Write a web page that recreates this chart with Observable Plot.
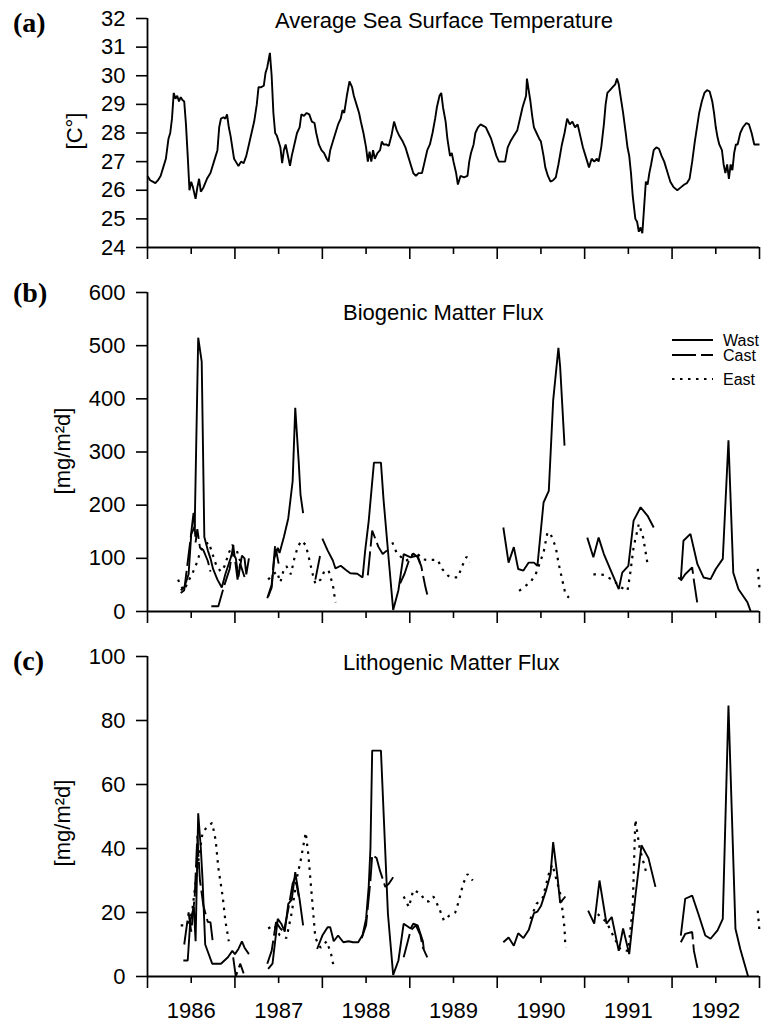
<!DOCTYPE html>
<html>
<head>
<meta charset="utf-8">
<script src="https://cdn.jsdelivr.net/npm/d3@7"></script>
<script src="https://cdn.jsdelivr.net/npm/@observablehq/plot@0.6"></script>
<style>
  html, body { margin: 0; padding: 0; background: white; }
  #wrap { position: relative; width: 761px; height: 1024px; overflow: hidden; font-family: "Liberation Sans", Arial, sans-serif; }
  #wrap > .panel { position: absolute; left: 0; }
  #overlay { position: absolute; left: 0; top: 0; pointer-events: none; }
</style>
</head>
<body>
<div id="wrap"></div>
<script>
// ---------------- data ----------------
const yearLabels = ["1986", "1987", "1988", "1989", "1990", "1991", "1992"];
const seriesNames = ["Wast", "Cast", "East"];
const panelTitles = ["Average Sea Surface Temperature", "Biogenic Matter Flux", "Lithogenic Matter Flux"];
const panelTags = ["(a)", "(b)", "(c)"];
const axisTitles = ["[C°]", "[mg/m²d]", "[mg/m²d]"];
const sstTicks = [24, 25, 26, 27, 28, 29, 30, 31, 32];
const bioTicks = [0, 100, 200, 300, 400, 500, 600];
const lithoTicks = [0, 20, 40, 60, 80, 100];

// Average sea surface temperature [year, °C]
const sst = [[1986.00,26.5],[1986.03,26.35],[1986.06,26.3],[1986.09,26.25],[1986.12,26.35],[1986.15,26.5],[1986.18,26.8],[1986.21,27.1],[1986.24,27.8],[1986.26,28.0],[1986.28,28.5],[1986.30,29.4],[1986.32,29.2],[1986.34,29.3],[1986.36,29.1],[1986.38,29.25],[1986.40,29.15],[1986.42,29.1],[1986.44,28.3],[1986.46,27.2],[1986.48,26.0],[1986.50,26.3],[1986.52,26.1],[1986.55,25.7],[1986.57,26.1],[1986.59,26.4],[1986.61,25.95],[1986.64,26.1],[1986.68,26.4],[1986.72,26.6],[1986.76,27.0],[1986.80,27.4],[1986.82,28.2],[1986.84,28.5],[1986.87,28.55],[1986.89,28.5],[1986.91,28.65],[1986.93,28.2],[1986.95,27.9],[1986.97,27.5],[1986.99,27.1],[1987.01,27.0],[1987.04,26.85],[1987.07,27.0],[1987.10,26.95],[1987.13,27.2],[1987.16,27.6],[1987.19,28.0],[1987.22,28.4],[1987.25,29.0],[1987.27,29.6],[1987.30,29.6],[1987.33,29.65],[1987.35,30.1],[1987.37,30.3],[1987.40,30.8],[1987.42,30.0],[1987.44,28.7],[1987.46,28.0],[1987.48,27.9],[1987.50,27.7],[1987.52,27.5],[1987.54,26.95],[1987.56,27.4],[1987.58,27.6],[1987.60,27.3],[1987.63,26.85],[1987.65,27.2],[1987.68,27.6],[1987.71,28.0],[1987.74,28.2],[1987.76,28.65],[1987.79,28.6],[1987.82,28.7],[1987.85,28.65],[1987.88,28.4],[1987.91,28.35],[1987.93,28.0],[1987.96,27.6],[1987.99,27.4],[1988.02,27.3],[1988.05,27.1],[1988.07,27.0],[1988.09,27.4],[1988.12,27.7],[1988.15,28.0],[1988.18,28.3],[1988.21,28.5],[1988.23,28.8],[1988.25,28.7],[1988.28,29.3],[1988.31,29.8],[1988.34,29.6],[1988.36,29.3],[1988.39,29.0],[1988.42,28.7],[1988.44,28.4],[1988.47,28.0],[1988.50,27.5],[1988.52,27.0],[1988.54,27.35],[1988.56,27.0],[1988.58,27.4],[1988.60,27.1],[1988.63,27.3],[1988.66,27.4],[1988.68,27.7],[1988.70,27.6],[1988.73,27.6],[1988.76,27.55],[1988.79,27.9],[1988.82,28.4],[1988.85,28.1],[1988.88,27.9],[1988.92,27.7],[1988.95,27.5],[1988.98,27.2],[1989.01,26.9],[1989.04,26.6],[1989.07,26.5],[1989.10,26.6],[1989.14,26.6],[1989.17,27.0],[1989.20,27.4],[1989.23,27.6],[1989.26,28.0],[1989.29,28.5],[1989.31,28.9],[1989.34,29.3],[1989.36,29.4],[1989.38,28.9],[1989.41,28.4],[1989.43,27.8],[1989.46,27.2],[1989.48,27.3],[1989.50,27.0],[1989.53,26.6],[1989.55,26.2],[1989.58,26.5],[1989.62,26.45],[1989.66,26.5],[1989.68,27.0],[1989.70,27.3],[1989.73,27.6],[1989.75,28.0],[1989.78,28.2],[1989.81,28.3],[1989.84,28.25],[1989.87,28.2],[1989.90,28.0],[1989.93,27.8],[1989.96,27.5],[1989.99,27.2],[1990.02,27.0],[1990.06,27.0],[1990.09,27.0],[1990.12,27.5],[1990.15,27.7],[1990.19,27.9],[1990.23,28.1],[1990.26,28.5],[1990.29,28.9],[1990.31,29.1],[1990.33,29.3],[1990.34,29.9],[1990.36,29.5],[1990.38,29.1],[1990.40,28.6],[1990.42,28.2],[1990.45,28.0],[1990.48,27.8],[1990.50,27.7],[1990.53,27.2],[1990.55,26.8],[1990.58,26.5],[1990.61,26.3],[1990.64,26.35],[1990.67,26.45],[1990.70,26.9],[1990.74,27.6],[1990.77,28.0],[1990.80,28.5],[1990.83,28.3],[1990.86,28.4],[1990.89,28.2],[1990.92,28.3],[1990.95,27.9],[1990.98,27.5],[1991.01,27.2],[1991.05,26.8],[1991.08,27.1],[1991.11,27.0],[1991.14,27.1],[1991.16,27.0],[1991.19,27.5],[1991.22,28.3],[1991.24,29.0],[1991.26,29.4],[1991.29,29.5],[1991.32,29.6],[1991.35,29.7],[1991.37,29.9],[1991.39,29.7],[1991.41,29.3],[1991.44,28.7],[1991.47,28.0],[1991.49,27.5],[1991.51,27.2],[1991.53,26.6],[1991.55,25.8],[1991.58,25.0],[1991.60,24.9],[1991.62,24.55],[1991.64,24.7],[1991.66,24.5],[1991.68,25.4],[1991.70,26.3],[1991.72,26.2],[1991.74,26.6],[1991.76,26.9],[1991.79,27.4],[1991.82,27.5],[1991.85,27.45],[1991.88,27.2],[1991.91,27.0],[1991.94,26.7],[1991.98,26.3],[1992.02,26.1],[1992.06,26.0],[1992.10,26.1],[1992.14,26.2],[1992.17,26.25],[1992.20,26.4],[1992.23,27.0],[1992.26,27.7],[1992.29,28.3],[1992.31,28.7],[1992.34,29.1],[1992.37,29.4],[1992.40,29.5],[1992.43,29.45],[1992.46,29.1],[1992.48,28.7],[1992.50,28.2],[1992.52,27.85],[1992.54,27.6],[1992.57,27.4],[1992.59,26.9],[1992.61,26.6],[1992.63,26.9],[1992.65,26.4],[1992.67,26.9],[1992.69,26.7],[1992.71,27.3],[1992.73,27.6],[1992.75,27.6],[1992.78,28.0],[1992.81,28.2],[1992.85,28.35],[1992.88,28.3],[1992.91,28.0],[1992.94,27.6],[1992.97,27.6],[1993.00,27.6]];

// Biogenic matter flux [year, mg/m2d]; null marks a gap
const bioWast = [[1986.38,40],[1986.42,45],[1986.47,70],[1986.50,145],[1986.54,160],[1986.58,515],[1986.62,470],[1986.65,140],[1986.69,115],[1986.72,100],[1986.75,80],[1986.80,60],[1986.85,45],[1986.89,70],[1986.94,95],[1986.97,110],[1987.01,100],[1987.04,65],[1987.08,105],[1987.11,100],[1987.13,70],[1987.16,100],[1987.2,null],
 [1987.38,28],[1987.42,45],[1987.45,100],[1987.49,120],[1987.51,110],[1987.56,140],[1987.61,175],[1987.66,245],[1987.69,383],[1987.73,280],[1987.75,220],[1987.78,185],[1987.9,null],
 [1988.00,137],[1988.06,115],[1988.12,96],[1988.15,81],[1988.21,86],[1988.27,78],[1988.32,72],[1988.40,71],[1988.46,64],[1988.49,115],[1988.53,170],[1988.59,280],[1988.67,280],[1988.70,210],[1988.76,96],[1988.81,3],[1988.87,40],[1988.93,108],[1989.01,102],[1989.09,105],[1989.12,90],[1989.5,null],
 [1990.07,158],[1990.13,92],[1990.19,121],[1990.24,80],[1990.30,77],[1990.36,92],[1990.42,92],[1990.46,86],[1990.53,205],[1990.59,227],[1990.64,397],[1990.70,496],[1990.72,460],[1990.77,312],[1990.9,null],
 [1991.03,139],[1991.10,102],[1991.16,139],[1991.22,108],[1991.30,77],[1991.39,42],[1991.43,73],[1991.50,86],[1991.56,171],[1991.64,196],[1991.72,180],[1991.79,158],[1991.9,null],
 [1992.07,64],[1992.10,60],[1992.13,133],[1992.21,146],[1992.29,89],[1992.36,64],[1992.44,61],[1992.50,80],[1992.58,99],[1992.645,322],[1992.70,73],[1992.76,42],[1992.86,18],[1992.90,0]];
const bioCast = [[1986.38,35],[1986.42,40],[1986.48,120],[1986.53,190],[1986.55,130],[1986.57,155],[1986.60,120],[1986.64,115],[1986.69,95],[1986.72,75],[1986.725,null],
 [1986.73,10],[1986.81,10],[1986.88,50],[1986.94,80],[1986.98,125],[1987.03,60],[1987.06,90],[1987.11,65],[1987.2,null],
 [1987.37,25],[1987.42,50],[1987.46,125],[1987.50,90],[1987.6,null],
 [1987.92,60],[1987.98,110],[1988.2,null],
 [1988.52,68],[1988.57,152],[1988.61,135],[1988.64,122],[1988.69,108],[1988.74,115],[1988.8,null],
 [1988.89,53],[1988.94,71],[1988.99,96],[1989.04,109],[1989.09,102],[1989.13,86],[1989.18,45],[1989.20,32],[1990.5,null],
 [1992.10,58],[1992.15,70],[1992.23,83],[1992.25,58],[1992.29,14]];
const bioEast = [[1986.35,60],[1986.38,48],[1986.42,40],[1986.46,55],[1986.51,70],[1986.56,90],[1986.61,115],[1986.65,125],[1986.70,130],[1986.74,110],[1986.79,85],[1986.84,75],[1986.88,85],[1986.93,110],[1986.97,125],[1987.02,115],[1987.06,95],[1987.2,null],
 [1987.38,60],[1987.44,70],[1987.48,75],[1987.52,55],[1987.56,80],[1987.59,85],[1987.64,70],[1987.68,100],[1987.72,122],[1987.76,133],[1987.81,125],[1987.84,105],[1987.89,70],[1987.92,52],[1987.98,60],[1988.02,75],[1988.07,78],[1988.12,50],[1988.15,17],[1988.5,null],
 [1988.80,130],[1988.85,110],[1988.95,95],[1989.01,100],[1989.04,110],[1989.09,108],[1989.15,98],[1989.20,97],[1989.26,97],[1989.32,97],[1989.37,80],[1989.44,67],[1989.49,64],[1989.55,64],[1989.60,86],[1989.65,103],[1989.68,92],[1990.0,null],
 [1990.25,39],[1990.38,55],[1990.44,70],[1990.53,111],[1990.575,149],[1990.61,146],[1990.67,121],[1990.70,92],[1990.75,55],[1990.78,33],[1990.82,26],[1991.0,null],
 [1991.10,70],[1991.22,69],[1991.33,58],[1991.42,45],[1991.49,39],[1991.52,70],[1991.56,121],[1991.62,165],[1991.67,139],[1991.72,89],[1992.0,null],
 [1992.98,80],[1993.00,45]];

// Lithogenic matter flux [year, mg/m2d]; null marks a gap
const lithoWast = [[1986.41,5],[1986.46,5],[1986.49,17.5],[1986.53,21.7],[1986.55,11],[1986.58,51],[1986.61,40],[1986.63,30],[1986.66,10],[1986.74,4],[1986.84,4],[1986.92,6],[1986.97,8],[1987.00,7],[1987.04,8.6],[1987.08,11],[1987.11,9],[1987.16,7],[1987.2,null],
 [1987.38,2.4],[1987.43,4],[1987.49,18],[1987.53,16.5],[1987.57,14],[1987.61,22.7],[1987.65,24],[1987.69,32.6],[1987.74,24],[1987.78,16],[1987.9,null],
 [1987.94,8.6],[1988.00,12.8],[1988.06,15.4],[1988.09,15.4],[1988.13,11],[1988.18,12.8],[1988.24,10.7],[1988.30,11],[1988.35,10.7],[1988.41,10.7],[1988.46,13],[1988.50,18],[1988.53,28],[1988.55,40],[1988.57,70.6],[1988.67,70.6],[1988.75,19.6],[1988.81,0.5],[1988.87,5],[1988.93,16.5],[1989.01,15],[1989.04,16.5],[1989.09,16],[1989.15,11],[1989.16,8.6],[1989.5,null],
 [1990.07,10.7],[1990.13,12.2],[1990.19,9.6],[1990.24,13.5],[1990.30,12],[1990.36,14.5],[1990.42,19.8],[1990.46,20.3],[1990.50,22],[1990.56,27],[1990.61,32],[1990.64,42],[1990.69,31],[1990.72,23],[1990.78,25],[1990.9,null],
 [1991.04,20.6],[1991.11,16.5],[1991.17,30],[1991.25,16.5],[1991.31,18.6],[1991.39,8],[1991.44,15],[1991.51,7],[1991.58,25],[1991.65,41],[1991.73,37],[1991.81,28],[1991.9,null],
 [1992.10,12.8],[1992.15,24.3],[1992.23,25.3],[1992.30,19.6],[1992.38,12.8],[1992.44,11.8],[1992.52,14.4],[1992.58,18],[1992.645,84.7],[1992.725,14.9],[1992.78,8.6],[1992.87,0]];
const lithoCast = [[1986.42,10],[1986.47,20],[1986.50,14],[1986.54,25],[1986.57,44],[1986.60,30],[1986.64,22],[1986.69,17],[1986.72,17],[1986.75,10],[1986.9,null],
 [1986.98,6],[1987.01,0],[1987.06,4],[1987.10,1],[1987.2,null],
 [1987.37,4],[1987.42,8],[1987.47,17],[1987.52,15],[1987.56,14],[1987.61,21],[1987.66,29],[1987.69,31],[1987.73,25],[1988.0,null],
 [1988.45,12],[1988.50,16],[1988.55,30],[1988.57,38],[1988.62,37],[1988.66,33],[1988.72,28],[1988.76,29],[1988.81,31],[1988.85,null],
 [1988.93,6],[1989.01,14.4],[1989.07,16],[1989.12,13],[1989.15,9],[1989.20,6],[1990.5,null],
 [1992.10,10.7],[1992.15,13.3],[1992.23,13.9],[1992.25,8],[1992.30,1.4]];
const lithoEast = [[1986.38,16],[1986.45,16],[1986.51,20],[1986.57,34],[1986.63,45],[1986.69,47],[1986.74,48],[1986.78,42.5],[1986.81,34],[1986.86,25],[1986.89,17.5],[1986.93,11],[1987.2,null],
 [1987.38,15],[1987.45,16],[1987.51,13],[1987.59,12],[1987.65,20],[1987.71,31],[1987.75,36],[1987.81,45],[1987.84,38],[1987.89,21.7],[1987.92,12],[1987.98,9],[1988.05,11],[1988.10,7],[1988.13,3],[1988.5,null],
 [1988.93,25],[1988.99,21.7],[1989.04,27],[1989.12,26],[1989.18,23.5],[1989.22,23.5],[1989.27,25],[1989.33,21.7],[1989.39,17.5],[1989.45,19],[1989.52,20],[1989.56,23.5],[1989.61,29],[1989.66,32],[1989.72,30],[1990.0,null],
 [1990.38,18],[1990.45,22.7],[1990.52,24.6],[1990.59,32],[1990.63,35],[1990.72,26],[1990.75,20],[1990.77,15],[1990.78,9],[1991.0,null],
 [1991.15,19.5],[1991.25,17],[1991.34,12],[1991.41,8.4],[1991.50,8],[1991.55,22],[1991.58,49],[1991.63,40],[1991.71,32],[1992.0,null],
 [1992.98,20.6],[1993.00,14]];

// ---------------- drawing ----------------
const FONT = "Liberation Sans, Arial, Helvetica, sans-serif";
const yearStarts = yearLabels.map(s => +s).concat([+yearLabels[yearLabels.length - 1] + 1]);
const midYears = yearLabels.map(s => +s + 0.5);
const xDomain = [yearStarts[0], yearStarts[yearStarts.length - 1]];
const dashStyles = {Wast: null, Cast: "24,5", East: "2.5,5.5"};

function panel({series, yDomain, yTicks, top, height, marginTop, marginBottom, showYears}) {
  const marks = [
    Plot.axisY({ticks: yTicks, tickSize: 11, tickPadding: 11, fontSize: 22, label: null, strokeWidth: 1.6}),
    Plot.axisX({ticks: yearStarts, tickSize: 12, tickFormat: () => "", label: null, strokeWidth: 1.6}),
    Plot.axisX({ticks: midYears, tickSize: 7, tickPadding: 19, fontSize: 22, label: null, strokeWidth: 1.6,
      tickFormat: showYears ? (d => String(Math.floor(d))) : (() => "")}),
    Plot.ruleX([xDomain[0]], {strokeWidth: 1.8}),
    Plot.ruleY([yDomain[0]], {strokeWidth: 1.8})
  ];
  for (const s of series) {
    marks.push(Plot.line(s.data, {
      x: d => d[0], y: d => (d[1] == null ? NaN : d[1]),
      stroke: "black", strokeWidth: s.width || 1.9,
      strokeDasharray: s.dash || null, strokeLinejoin: "miter", strokeLinecap: "butt"
    }));
  }
  const svg = Plot.plot({
    width: 761, height, marginLeft: 147, marginRight: 2, marginTop, marginBottom,
    x: {domain: xDomain}, y: {domain: yDomain},
    style: {fontFamily: FONT, color: "black", background: "transparent", overflow: "visible"},
    marks
  });
  svg.classList.add("panel");
  svg.style.position = "absolute";
  svg.style.top = top + "px";
  svg.style.left = "0px";
  return svg;
}

const wrap = document.getElementById("wrap");
wrap.appendChild(panel({
  series: [{data: sst, width: 1.9}],
  yDomain: [sstTicks[0], sstTicks[sstTicks.length - 1]], yTicks: sstTicks,
  top: 0, height: 265, marginTop: 18, marginBottom: 18, showYears: false
}));
wrap.appendChild(panel({
  series: [
    {data: bioEast, dash: dashStyles.East, width: 2.2},
    {data: bioCast, dash: dashStyles.Cast},
    {data: bioWast}
  ],
  yDomain: [bioTicks[0], bioTicks[bioTicks.length - 1]], yTicks: bioTicks,
  top: 270, height: 360, marginTop: 22, marginBottom: 19, showYears: false
}));
wrap.appendChild(panel({
  series: [
    {data: lithoEast, dash: dashStyles.East, width: 2.2},
    {data: lithoCast, dash: dashStyles.Cast},
    {data: lithoWast}
  ],
  yDomain: [lithoTicks[0], lithoTicks[lithoTicks.length - 1]], yTicks: lithoTicks,
  top: 630, height: 394, marginTop: 26, marginBottom: 48, showYears: true
}));

// overlay: panel tags, titles, axis titles, legend
const ov = d3.select(wrap).append("svg").attr("id", "overlay")
  .attr("width", 761).attr("height", 1024).style("font-family", FONT);
const tagPos = [[13, 32], [13, 302], [13, 670]];
const titlePos = [[275, 28], [343, 320], [343, 670]];
const axisTitlePos = [[74, 131], [62, 451], [62, 823]];
panelTags.forEach((t, i) => {
  ov.append("text").attr("x", tagPos[i][0]).attr("y", tagPos[i][1])
    .attr("font-family", "Liberation Serif, Times New Roman, serif").attr("font-weight", "bold")
    .attr("font-size", 28).text(t);
  ov.append("text").attr("x", titlePos[i][0]).attr("y", titlePos[i][1])
    .attr("font-size", 22).text(panelTitles[i]);
  ov.append("text")
    .attr("transform", `translate(${axisTitlePos[i][0]},${axisTitlePos[i][1]}) rotate(-90)`)
    .attr("text-anchor", "middle").attr("dy", "0.35em").attr("font-size", 22).text(axisTitles[i]);
});
const legendY = [340, 355, 379];
seriesNames.forEach((name, i) => {
  ov.append("line").attr("x1", 672).attr("x2", 713).attr("y1", legendY[i]).attr("y2", legendY[i])
    .attr("stroke", "black").attr("stroke-width", i === 2 ? 2.2 : 1.9)
    .attr("stroke-dasharray", dashStyles[name]);
  ov.append("text").attr("x", 723).attr("y", legendY[i]).attr("dy", "0.35em")
    .attr("font-size", 16).text(name);
});
</script>
</body>
</html>
